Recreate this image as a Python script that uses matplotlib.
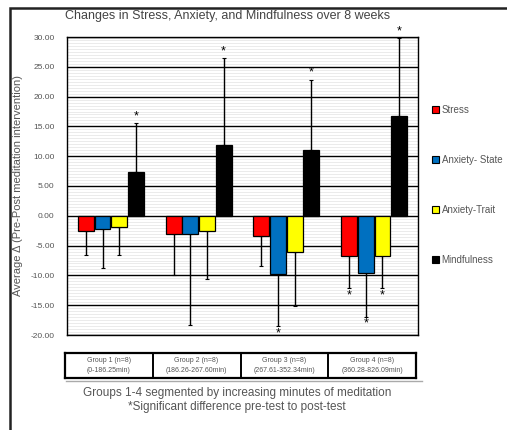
import matplotlib.pyplot as plt
import numpy as np
from matplotlib.patches import Patch, Rectangle
from matplotlib.lines import Line2D

plt.rcParams['font.family'] = ['Liberation Sans', 'DejaVu Sans']

groups = ['Group 1 (n=8)\n(0-186.25min)', 'Group 2 (n=8)\n(186.26-267.60min)',
          'Group 3 (n=8)\n(267.61-352.34min)', 'Group 4 (n=8)\n(360.28-826.09min)']
series = ['Stress', 'Anxiety- State', 'Anxiety-Trait', 'Mindfulness']
colors = ['#ff0000', '#0070c0', '#ffff00', '#000000']

stress = [-2.6, -3.0, -3.35, -6.8]
stress_err = [3.9, 6.9, 5.15, 5.3]
anx_state = [-2.2, -3.0, -9.8, -9.6]
anx_state_err = [6.6, 15.3, 8.7, 7.3]
anx_trait = [-1.8, -2.6, -6.0, -6.8]
anx_trait_err = [4.7, 8.0, 9.1, 5.3]
mind = [7.3, 11.8, 11.05, 16.75]
mind_err = [8.2, 14.6, 11.75, 13.05]

sig_stress = [False, False, False, True]
sig_state = [False, False, True, True]
sig_trait = [False, False, False, True]
sig_mind = [True, True, True, True]

values = [stress, anx_state, anx_trait, mind]
errors = [stress_err, anx_state_err, anx_trait_err, mind_err]
sigs = [sig_stress, sig_state, sig_trait, sig_mind]

W, H = 507, 430
fig = plt.figure(figsize=(W / 100, H / 100), dpi=100)

# outer frame
fig.patches.append(Rectangle((10 / W, -0.05), 1.2, 1 - 8 / H + 0.05, transform=fig.transFigure,
                             fill=False, edgecolor='#222222', linewidth=1.8))

ax = fig.add_axes([67 / W, 1 - 335 / H, 351 / W, 298 / H])
x = np.arange(len(groups))
offsets = [-0.285, -0.095, 0.095, 0.285]
width = 0.18

for vals, errs, sg, off, col in zip(values, errors, sigs, offsets, colors):
    vals = np.array(vals)
    errs = np.array(errs)
    ax.bar(x + off, vals, width, color=col, edgecolor='black', linewidth=0.9, zorder=3)
    lower = np.where(vals < 0, errs, 0)
    upper = np.where(vals >= 0, errs, 0)
    ax.errorbar(x + off, vals, yerr=[lower, upper], fmt='none', ecolor='black',
                elinewidth=1.0, capsize=1.2, capthick=0.8, zorder=2)
    for xi, v, e, s in zip(x + off, vals, errs, sg):
        if s:
            if v >= 0:
                ax.text(xi, v + e + 0.2, '*', ha='center', va='bottom', fontsize=9,
                        color='black', clip_on=False)
            else:
                ax.text(xi, v - e - 0.2, '*', ha='center', va='top', fontsize=9,
                        color='black', clip_on=False)

ax.set_xlim(-0.5, 3.5)
ax.set_ylim(-20, 30)
ax.set_yticks(np.arange(-20, 31, 5))
ax.set_yticklabels(['%.2f' % t for t in np.arange(-20, 31, 5)], fontsize=6, color='#555555')
ax.set_yticks(np.arange(-20, 30, 0.5), minor=True)
ax.set_xticks([])
ax.tick_params(axis='y', which='both', length=0, pad=9)
ax.grid(axis='y', which='major', color='black', linewidth=1.0, zorder=1)
ax.grid(axis='y', which='minor', color='#dcdcdc', linewidth=0.4, zorder=0)
ax.set_axisbelow(True)
for sp in ax.spines.values():
    sp.set_linewidth(1.0)
ax.set_ylabel('Average \u0394 (Pre-Post meditation intervention)', fontsize=8, color='#555555',
              labelpad=5)

fig.text(228 / W, 1 - 16 / H, 'Changes in Stress, Anxiety, and Mindfulness over 8 weeks',
         ha='center', va='center', fontsize=9, color='#444444')

# group table
tax = fig.add_axes([65 / W, 1 - 378 / H, 351 / W, 25 / H])
tax.set_xlim(-0.5, 3.5)
tax.set_ylim(0, 1)
tax.set_xticks([])
tax.set_yticks([])
for sp in tax.spines.values():
    sp.set_linewidth(1.6)
for i, g in enumerate(groups):
    tax.text(i, 0.5, g, ha='center', va='center', fontsize=5, color='#555555', linespacing=1.5)
    if i > 0:
        tax.axvline(i - 0.5, color='black', linewidth=1.4)
fig.lines.append(Line2D([66 / W, 422 / W], [1 - 380.5 / H, 1 - 380.5 / H],
                        transform=fig.transFigure, color='#aaaaaa', linewidth=1.0))

fig.text(237 / W, 1 - 393 / H, 'Groups 1-4 segmented by increasing minutes of meditation',
         ha='center', va='center', fontsize=8.5, color='#555555')
fig.text(237 / W, 1 - 407 / H, '*Significant difference pre-test to post-test',
         ha='center', va='center', fontsize=8.5, color='#555555')

handles = [Patch(facecolor=c, edgecolor='black', linewidth=0.8) for c in colors]
fig.legend(handles, series, loc='center left', bbox_to_anchor=(427 / W, 1 - 185 / H),
           frameon=False, fontsize=7, labelspacing=4.1, handlelength=0.7, handleheight=0.7,
           handletextpad=0.3, labelcolor='#555555', borderpad=0)

fig.savefig('out.png', dpi=100)
